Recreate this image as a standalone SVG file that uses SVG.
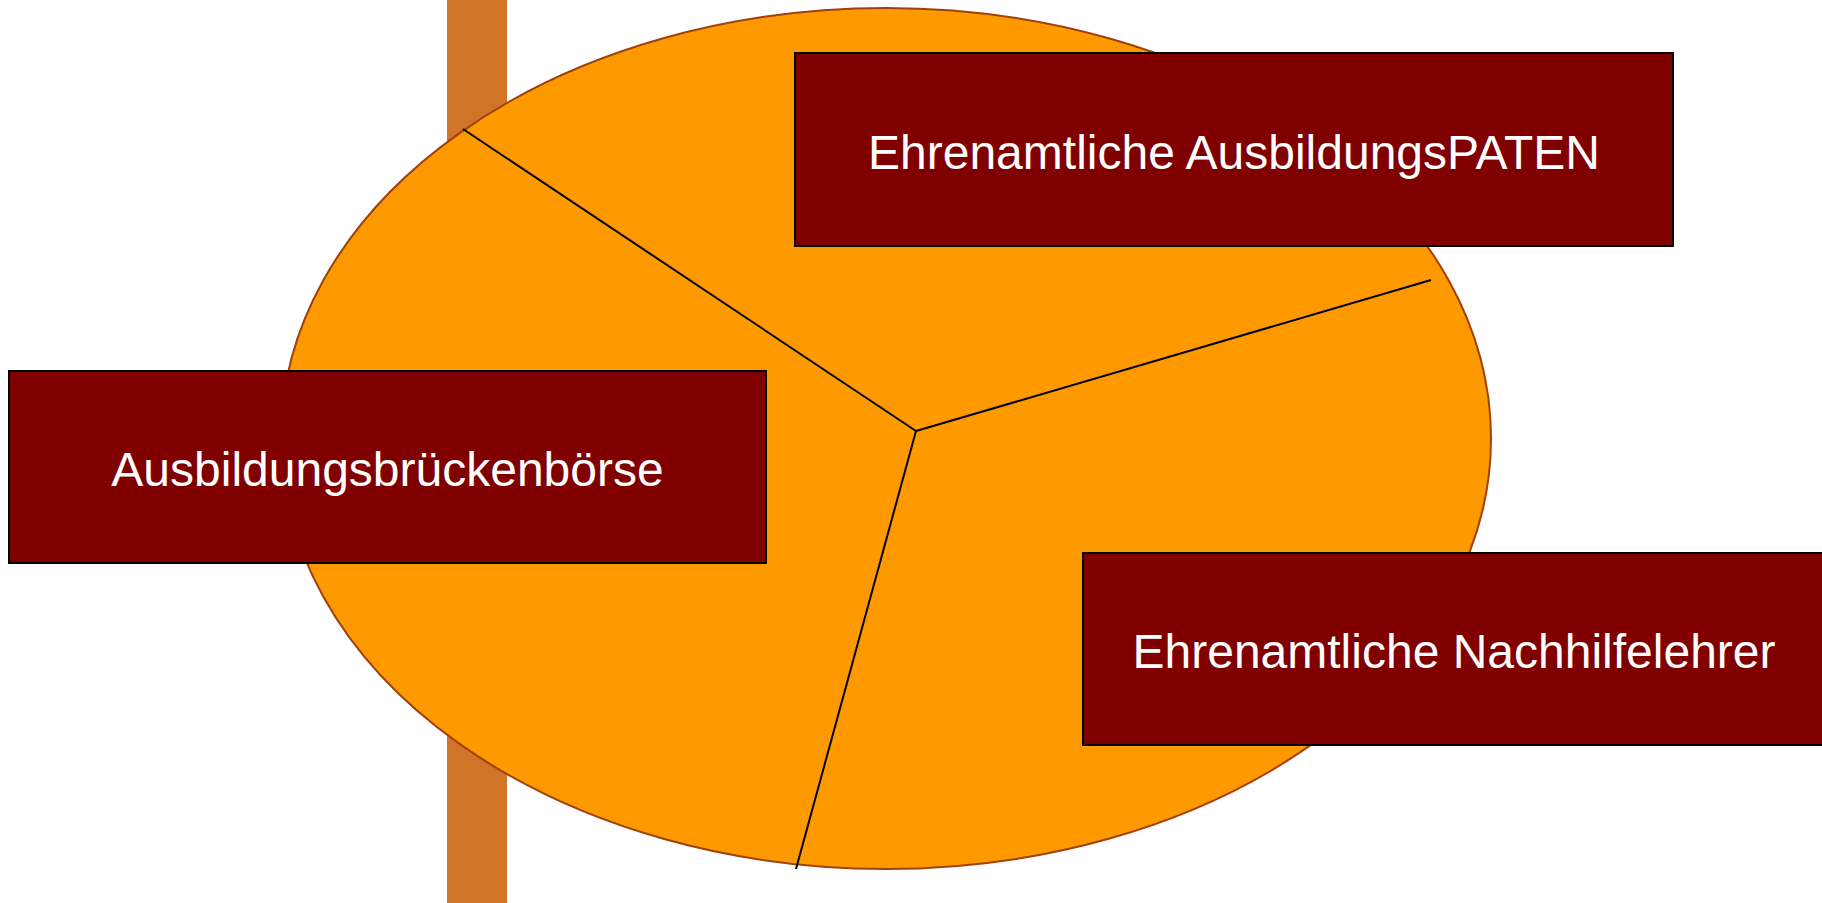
<svg xmlns="http://www.w3.org/2000/svg" width="1822" height="903" viewBox="0 0 1822 903">
<style>
.box{fill:#800000;stroke:#000;stroke-width:2}
.lbl{fill:#fff;font-family:"Liberation Sans",Arial,sans-serif;font-size:48px;text-anchor:middle}
.con{stroke:#000;stroke-width:2;fill:none}
</style>
<rect x="447" y="0" width="60" height="903" fill="#D07428"/>
<g id="pie">
<ellipse cx="886" cy="438.5" rx="605" ry="430.5" fill="#FF9900" stroke="#A0400A" stroke-width="2"/>
</g>
<g id="connectors">
<line class="con" x1="463" y1="129" x2="916" y2="431"/>
<line class="con" x1="916" y1="431" x2="1431" y2="280"/>
<line class="con" x1="916" y1="431" x2="796" y2="869"/>
</g>
<g id="node-paten">
<rect class="box" x="795" y="53" width="878" height="193"/>
<text class="lbl" x="1234" y="169">Ehrenamtliche AusbildungsPATEN</text>
</g>
<g id="node-boerse">
<rect class="box" x="9" y="371" width="757" height="192"/>
<text class="lbl" x="387.5" y="486">Ausbildungsbrückenbörse</text>
</g>
<g id="node-nachhilfe">
<rect class="box" x="1083" y="553" width="742" height="192"/>
<text class="lbl" x="1454" y="668">Ehrenamtliche Nachhilfelehrer</text>
</g>
</svg>
